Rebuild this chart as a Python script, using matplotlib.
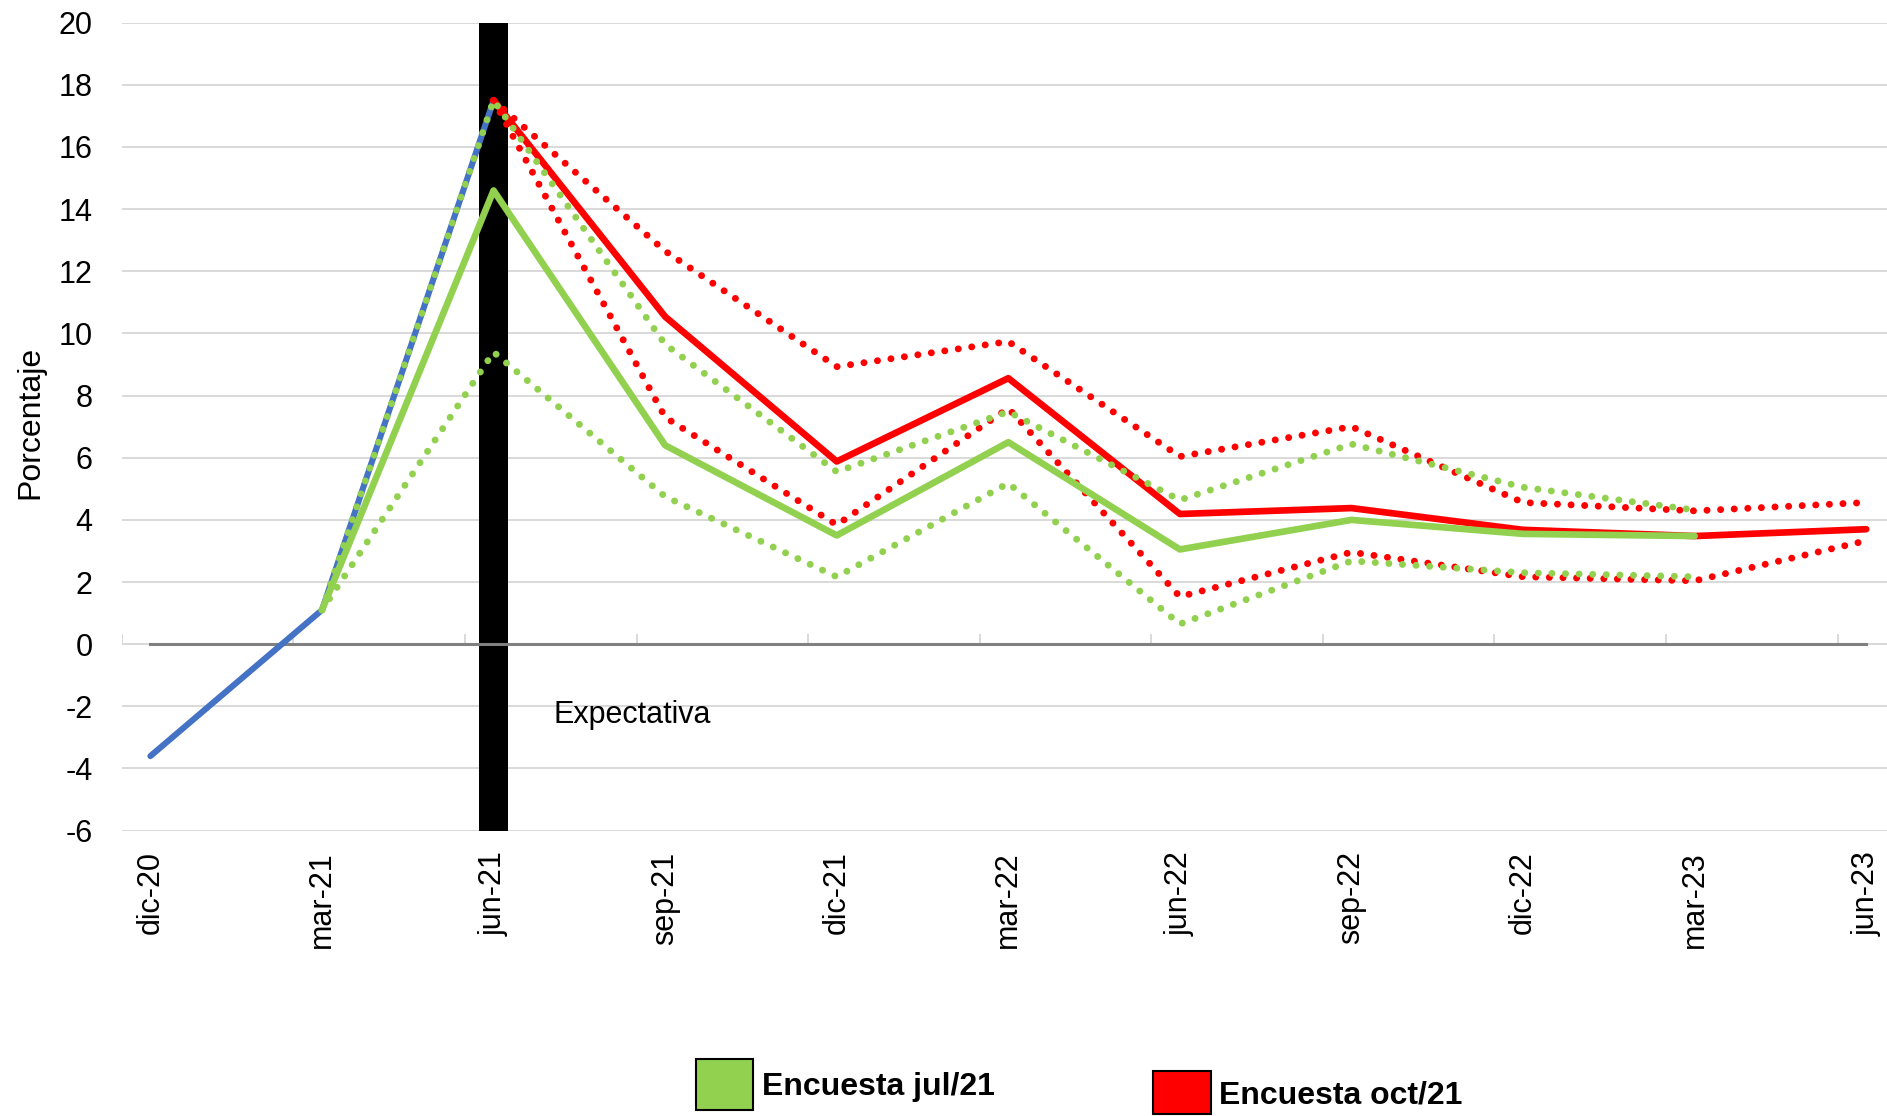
import numpy as np
import matplotlib
matplotlib.use("Agg")
import matplotlib.pyplot as plt
from matplotlib.patches import Rectangle

plt.rcParams["font.family"] = ["Liberation Sans", "DejaVu Sans"]
plt.rcParams["axes.unicode_minus"] = False

# Datos: trimestres (posición en meses desde dic-20)
etiquetas = ["dic-20", "mar-21", "jun-21", "sep-21", "dic-21", "mar-22",
             "jun-22", "sep-22", "dic-22", "mar-23", "jun-23"]
meses = np.arange(len(etiquetas)) * 3
nan = np.nan

observado = [-3.6, 1.1, 17.5, nan, nan, nan, nan, nan, nan, nan, nan]
cero = [0.0] * len(etiquetas)

jul_central = [nan, 1.1, 14.6, 6.4, 3.5, 6.5, 3.05, 4.0, 3.55, 3.48, nan]
jul_sup = [nan, 1.1, 17.5, 9.65, 5.55, 7.48, 4.64, 6.44, 5.05, 4.32, nan]
jul_inf = [nan, 1.1, 9.4, 4.75, 2.17, 5.18, 0.65, 2.68, 2.30, 2.17, nan]

oct_central = [nan, nan, 17.5, 10.54, 5.88, 8.56, 4.19, 4.38, 3.68, 3.48, 3.70]
oct_sup = [nan, nan, 17.5, 12.65, 8.93, 9.74, 6.04, 7.0, 4.56, 4.29, 4.56]
oct_inf = [nan, nan, 17.5, 7.3, 3.84, 7.59, 1.53, 2.96, 2.17, 2.04, 3.33]

verde = "#92D050"
rojo = "#FF0000"
azul = "#4472C4"
punteado = (0, (0.01, 1.95))

fig = plt.figure(figsize=(18.87, 11.16), dpi=100)
ax = fig.add_axes([0.06455, 0.2557, 0.9396, 0.72396])

# Barra vertical (inicio de la expectativa)
ax.bar(meses[2], 26, bottom=-6, width=0.5, color="black", zorder=2)

# Eje en cero y línea de referencia
ax.axhline(0, color="#D9D9D9", lw=1.4, zorder=1)
ticks_x = np.arange(-0.5, 30, 3)
ax.vlines(ticks_x, 0, 0.33, color="#D9D9D9", lw=1.4, zorder=1)
ax.plot(meses, cero, color="#808080", lw=2.2, zorder=3)

ax.plot(meses, observado, color=azul, lw=4.4, solid_capstyle="round", zorder=4)

ax.plot(meses, oct_sup, color=rojo, lw=5, ls=punteado, dash_capstyle="round", zorder=5)
ax.plot(meses, oct_inf, color=rojo, lw=5, ls=punteado, dash_capstyle="round", zorder=5)
ax.plot(meses, oct_central, color=rojo, lw=4.8, solid_capstyle="round", zorder=6)

ax.plot(meses, jul_sup, color=verde, lw=5, ls=punteado, dash_capstyle="round", zorder=7)
ax.plot(meses, jul_inf, color=verde, lw=5, ls=punteado, dash_capstyle="round", zorder=7)
ax.plot(meses, jul_central, color=verde, lw=4.8, solid_capstyle="round", zorder=8)

ax.text(7.04, -2.53, "Expectativa", fontsize=22, va="baseline", ha="left", zorder=9)

ax.set_xlim(-0.5, 30.5)
ax.set_ylim(-6, 20)
ax.set_yticks(np.arange(-6, 21, 2))
ax.set_xticks(meses)
ax.set_xticklabels(etiquetas, rotation=90, ha="center", va="top")
ax.tick_params(axis="x", length=0, pad=15, labelsize=22)
ax.tick_params(axis="y", length=0, pad=21, labelsize=22)
ax.grid(axis="y", color="#D9D9D9", lw=1.4, zorder=0)
ax.set_axisbelow(True)
for s in ax.spines.values():
    s.set_visible(False)

fig.text(0.016, 0.6214, "Porcentaje", rotation=90, ha="center", va="center", fontsize=23)

# Leyenda manual
fig.patches.append(Rectangle((0.3686, 0.0057), 0.0306, 0.0453, transform=fig.transFigure,
                             facecolor=verde, edgecolor="black", lw=1.5))
fig.text(0.4037, 0.0262, "Encuesta jul/21", fontsize=23, fontweight="bold", va="center")
fig.patches.append(Rectangle((0.611, 0.0014), 0.0306, 0.0388, transform=fig.transFigure,
                             facecolor=rojo, edgecolor="black", lw=1.5))
fig.text(0.646, 0.0188, "Encuesta oct/21", fontsize=23, fontweight="bold", va="center")

fig.savefig("out.png", dpi=100)
